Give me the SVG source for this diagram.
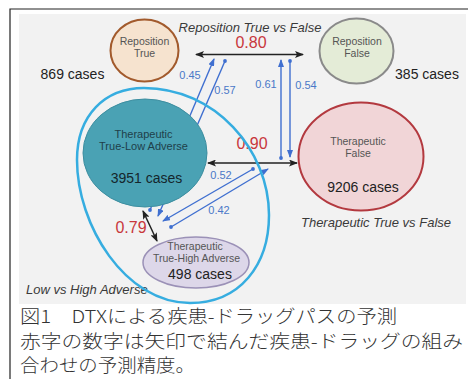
<svg xmlns="http://www.w3.org/2000/svg" width="468" height="379" viewBox="0 0 468 379">
<style>
.lbl{font-family:"Liberation Sans",Arial,sans-serif;font-size:10.5px;fill:#555;text-anchor:middle}
.cases{font-family:"Liberation Sans",Arial,sans-serif;font-size:14px;fill:#222;text-anchor:middle}
.ttl{font-family:"Liberation Sans",Arial,sans-serif;font-size:13px;font-style:italic;fill:#3a3a3a}
.red{font-family:"Liberation Sans",Arial,sans-serif;font-size:16px;fill:#c8373c;text-anchor:middle}
.blue{font-family:"Liberation Sans",Arial,sans-serif;font-size:11px;fill:#4a78c8;text-anchor:middle}
.cap{font-family:"Noto Sans CJK JP","Noto Sans CJK SC",sans-serif;font-size:18px;font-weight:300;fill:#333}
.bl{stroke:#3f6fd0;stroke-width:1.4;fill:none;marker-start:url(#dot);marker-end:url(#ab)}
.bk{stroke:#222;stroke-width:1.5;fill:none;marker-start:url(#ak);marker-end:url(#ak)}
</style>
<defs>
<marker id="ab" markerUnits="userSpaceOnUse" markerWidth="8" markerHeight="6" refX="7" refY="3" orient="auto"><path d="M0,0 L8,3 L0,6 z" fill="#3f6fd0"/></marker>
<marker id="dot" markerUnits="userSpaceOnUse" markerWidth="5" markerHeight="5" refX="2.5" refY="2.5"><circle cx="2.5" cy="2.5" r="1.9" fill="#3f6fd0"/></marker>
<marker id="ak" markerUnits="userSpaceOnUse" markerWidth="9" markerHeight="7" refX="8" refY="3.5" orient="auto-start-reverse"><path d="M0,0 L9,3.5 L0,7 L2,3.5 z" fill="#222"/></marker>
</defs>
<rect x="0" y="0" width="468" height="379" fill="#fff"/>
<path d="M10,379 V9 H468" stroke="#222" stroke-width="1.2" fill="none"/>
<rect x="19" y="14" width="447" height="290" fill="#f2f2f2"/>

<text class="ttl" x="250" y="32" text-anchor="middle">Reposition True vs False</text>
<text class="ttl" x="376" y="227" text-anchor="middle">Therapeutic True vs False</text>
<text class="ttl" x="26" y="294">Low vs High Adverse</text>

<g id="connectors">
<line class="bl" x1="150" y1="210" x2="214" y2="59"/>
<line class="bl" x1="225" y1="61" x2="158" y2="216"/>
<line class="bl" x1="281" y1="158" x2="281" y2="60"/>
<line class="bl" x1="290" y1="61" x2="290" y2="157"/>
<line class="bl" x1="253" y1="169" x2="163" y2="221"/>
<line class="bl" x1="171" y1="227" x2="268" y2="169"/>
<line class="bk" x1="196" y1="54.5" x2="303" y2="54.5"/>
<line class="bk" x1="208" y1="163" x2="297" y2="163"/>
<line class="bk" x1="143" y1="211" x2="157" y2="241"/>
<text class="red" x="251" y="48">0.80</text>
<text class="red" x="252" y="149">0.90</text>
<text class="red" x="131" y="233">0.79</text>
<text class="blue" x="190" y="79">0.45</text>
<text class="blue" x="225" y="94">0.57</text>
<text class="blue" x="266" y="88">0.61</text>
<text class="blue" x="306" y="89">0.54</text>
<text class="blue" x="221" y="179">0.52</text>
<text class="blue" x="219" y="214">0.42</text>
</g>

<g id="reposition-true">
<ellipse cx="144.5" cy="50.5" rx="34" ry="31" fill="#f6e3cf" stroke="#a25a2c" stroke-width="2"/>
<text class="lbl" x="144.5" y="45">Reposition</text>
<text class="lbl" x="144.5" y="57">True</text>
<text class="cases" x="72.5" y="79">869 cases</text>
</g>

<g id="reposition-false">
<ellipse cx="356.5" cy="51" rx="37" ry="32.5" fill="#e4ecd7" stroke="#8a8a8a" stroke-width="2"/>
<text class="lbl" x="357" y="45">Reposition</text>
<text class="lbl" x="357" y="57">False</text>
<text class="cases" x="427" y="79">385 cases</text>
</g>

<g id="therapeutic-false">
<ellipse cx="361" cy="156.5" rx="62.5" ry="54" fill="#f1d5d7" stroke="#b3393f" stroke-width="2"/>
<text class="lbl" x="358" y="145">Therapeutic</text>
<text class="lbl" x="358" y="157">False</text>
<text class="cases" x="363" y="192">9206 cases</text>
</g>

<g id="true-low-adverse">
<ellipse cx="145" cy="153" rx="62" ry="54" fill="#4aa2b4" stroke="#3d8ea0" stroke-width="1"/>
<text class="lbl" x="143.5" y="138" style="font-size:11px;fill:#1f3f4a">Therapeutic</text>
<text class="lbl" x="143.5" y="150" style="font-size:11px;fill:#1f3f4a">True-Low Adverse</text>
<text class="cases" x="146.5" y="183" style="fill:#15262c">3951 cases</text>
</g>

<g id="low-vs-high-group">
<path d="M144,88 C215,88 269,150 269,215 C269,265 240,303 190,303 C125,303 77,225 77,160 C77,115 105,88 144,88 Z" fill="none" stroke="#36ade0" stroke-width="2.5"/>
</g>

<g id="true-high-adverse">
<ellipse cx="196" cy="262.5" rx="53" ry="25.5" fill="#ddd7e9" stroke="#9b91b7" stroke-width="1.5"/>
<text class="lbl" x="195" y="250">Therapeutic</text>
<text class="lbl" x="196.5" y="262">True-High Adverse</text>
<text class="cases" x="200" y="279">498 cases</text>
</g>

<g id="caption">
<text class="cap" x="20" y="323" textLength="377" lengthAdjust="spacingAndGlyphs">図1　DTXによる疾患-ドラッグパスの予測</text>
<text class="cap" x="20" y="348" textLength="443" lengthAdjust="spacingAndGlyphs">赤字の数字は矢印で結んだ疾患-ドラッグの組み</text>
<text class="cap" x="20" y="372" textLength="175" lengthAdjust="spacingAndGlyphs">合わせの予測精度。</text>
</g>
</svg>
